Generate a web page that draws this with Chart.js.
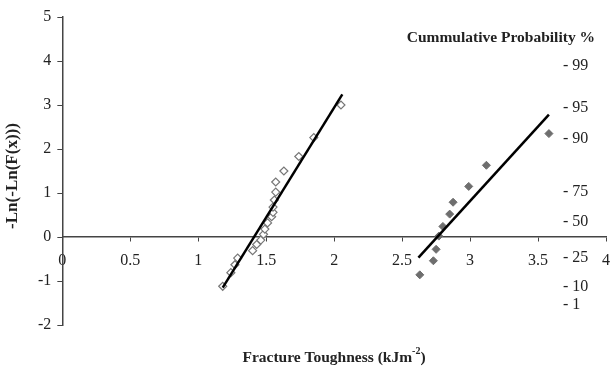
<!DOCTYPE html>
<html>
<head>
<meta charset="utf-8">
<script src="https://cdn.jsdelivr.net/npm/chart.js@4/dist/chart.umd.min.js"></script>
<style>
  html, body { margin: 0; padding: 0; background: #fff; }
  #wrap { width: 612px; height: 368px; position: relative; }
</style>
</head>
<body>
<div id="wrap"><canvas id="weibull"></canvas></div>
<script>
// open diamonds (lower toughness group)
const groupAx = [1.18, 1.24, 1.27, 1.29, 1.40, 1.43, 1.46, 1.48, 1.49, 1.51, 1.54, 1.55, 1.55, 1.56, 1.57, 1.57, 1.63, 1.74, 1.85, 2.05];
const groupAy = [-1.12, -0.81, -0.63, -0.48, -0.31, -0.17, -0.07, 0.06, 0.18, 0.32, 0.46, 0.56, 0.68, 0.84, 1.02, 1.25, 1.50, 1.83, 2.26, 3.00];
// filled diamonds (higher toughness group)
const groupBx = [2.63, 2.73, 2.75, 2.77, 2.80, 2.85, 2.875, 2.99, 3.12, 3.58];
const groupBy = [-0.86, -0.54, -0.28, 0.02, 0.24, 0.52, 0.79, 1.15, 1.63, 2.35];
// fitted lines (end points)
const fitAx = [1.18, 2.06];
const fitAy = [-1.15, 3.24];
const fitBx = [2.62, 3.58];
const fitBy = [-0.47, 2.78];
// right hand probability labels and the -Ln(-Ln(F)) level they sit at
const probLabels = ['99', '95', '90', '75', '50', '25', '10', '1'];
const probLevels = [3.89, 2.94, 2.24, 1.02, 0.34, -0.48, -1.13, -1.54];

const serif = '"Liberation Serif", "Times New Roman", serif';
const toPts = (xs, ys) => xs.map((x, i) => ({ x: x, y: ys[i] }));

const extraText = {
  id: 'extraText',
  afterDraw(chart) {
    const ctx = chart.ctx;
    const ys = chart.scales.y;
    ctx.save();
    ctx.fillStyle = '#222';
    // probability labels
    ctx.font = '16px ' + serif;
    ctx.textAlign = 'left';
    ctx.textBaseline = 'middle';
    probLabels.forEach((lab, i) => {
      ctx.fillText('- ' + lab, 563, ys.getPixelForValue(probLevels[i]));
    });
    ctx.font = 'bold 15.5px ' + serif;
    ctx.textAlign = 'right';
    ctx.fillText('Cummulative Probability %', 595, 38);

    // x title with superscript
    const main = 'Fracture Toughness (kJm';
    ctx.font = 'bold 15.5px ' + serif;
    const w1 = ctx.measureText(main).width;
    ctx.font = 'bold 10px ' + serif;
    const w2 = ctx.measureText('-2').width;
    ctx.font = 'bold 15.5px ' + serif;
    const w3 = ctx.measureText(')').width;
    let x0 = 334 - (w1 + w2 + w3) / 2;
    ctx.textAlign = 'left';
    ctx.fillText(main, x0, 358);
    ctx.font = 'bold 10px ' + serif;
    ctx.fillText('-2', x0 + w1, 351);
    ctx.font = 'bold 15.5px ' + serif;
    ctx.fillText(')', x0 + w1 + w2, 358);

    // y title
    ctx.translate(13, 176);
    ctx.rotate(-Math.PI / 2);
    ctx.textAlign = 'center';
    ctx.font = 'bold 17px ' + serif;
    ctx.fillText('-Ln(-Ln(F(x)))', 0, 0);
    ctx.restore();
  }
};

new Chart(document.getElementById('weibull'), {
  type: 'scatter',
  data: {
    datasets: [
      {
        data: toPts(fitAx, fitAy),
        showLine: true,
        borderColor: '#000',
        borderWidth: 2.5,
        pointRadius: 0
      },
      {
        data: toPts(fitBx, fitBy),
        showLine: true,
        borderColor: '#000',
        borderWidth: 2.5,
        pointRadius: 0
      },
      {
        data: toPts(groupAx, groupAy),
        pointStyle: 'rectRot',
        pointRadius: 4,
        backgroundColor: '#fff',
        borderColor: '#777',
        borderWidth: 1.2
      },
      {
        data: toPts(groupBx, groupBy),
        pointStyle: 'rectRot',
        pointRadius: 4,
        backgroundColor: '#6e6e6e',
        borderColor: '#6e6e6e',
        borderWidth: 1
      }
    ]
  },
  options: {
    responsive: true,
    maintainAspectRatio: false,
    animation: false,
    layout: { padding: { left: 32, right: 6, top: 17, bottom: 43 } },
    plugins: { legend: { display: false }, tooltip: { enabled: false } },
    scales: {
      x: {
        type: 'linear',
        position: { y: 0 },
        min: 0,
        max: 4,
        afterFit: (scale) => { scale.paddingRight = 0; scale.paddingLeft = 0; },
        ticks: {
          stepSize: 0.5,
          color: '#222',
          font: { family: serif, size: 16 },
          padding: 10,
          callback: (v) => String(v)
        },
        grid: { drawOnChartArea: false, drawTicks: true, tickLength: 4, color: '#444', lineWidth: 1 },
        border: { display: true, color: '#444', width: 1.5 }
      },
      y: {
        type: 'linear',
        min: -2,
        max: 5,
        afterFit: (scale) => { scale.paddingTop = 0; scale.paddingBottom = 0; },
        ticks: { stepSize: 1, color: '#222', font: { family: serif, size: 16 }, padding: 6 },
        grid: { drawOnChartArea: false, drawTicks: true, tickLength: 5, color: '#444', lineWidth: 1 },
        border: { display: true, color: '#444', width: 1.5 }
      }
    }
  },
  plugins: [extraText]
});
</script>
</body>
</html>
